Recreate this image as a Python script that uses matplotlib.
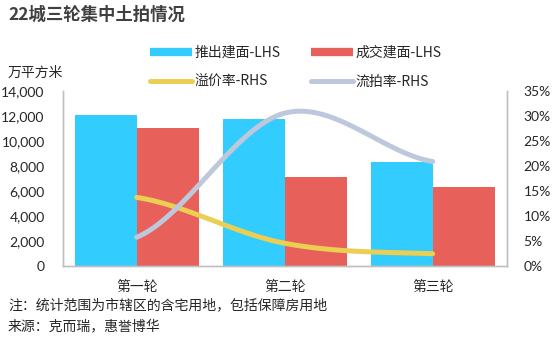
import matplotlib
matplotlib.use("Agg")
import matplotlib.pyplot as plt
from matplotlib.lines import Line2D
import numpy as np

plt.rcParams['font.family'] = ['Noto Sans CJK SC', 'DejaVu Sans']

rounds = ['第一轮', '第二轮', '第三轮']
supply = [12100, 11800, 8320]      # 推出建面, 万平方米
sold = [11050, 7120, 6320]         # 成交建面, 万平方米
premium = [13.7, 4.5, 2.4]         # 溢价率, %
failed = [5.7, 30.6, 20.9]         # 流拍率, %

c_blue = '#33CCFF'
c_red = '#E8605A'
c_yellow = '#EBCF52'
c_gray = '#BEC8DC'
c_axis = '#BFBFBF'
c_text = '#262626'


def smooth(y, n=60):
    # Excel-style smoothed line (Catmull-Rom through the points)
    y = np.asarray(y, float)
    p = np.concatenate([[y[0]], y, [y[-1]]])
    xs, ys = [], []
    for i in range(len(y) - 1):
        t = np.linspace(0, 1, n)
        p0, p1, p2, p3 = p[i], p[i + 1], p[i + 2], p[i + 3]
        b1 = p1 + (p2 - p0) / 6
        b2 = p2 - (p3 - p1) / 6
        yy = (1 - t)**3 * p1 + 3 * (1 - t)**2 * t * b1 + 3 * (1 - t) * t**2 * b2 + t**3 * p2
        xs.append(i + t)
        ys.append(yy)
    return np.concatenate(xs), np.concatenate(ys)


fig = plt.figure(figsize=(5.52, 3.42), dpi=100)
ax = fig.add_axes([62.7 / 552, 1 - 265.7 / 342, 444 / 552, 174.5 / 342])

x = np.arange(len(rounds))
w = 0.418
ax.bar(x - w / 2, supply, w, color=c_blue, zorder=2)
ax.bar(x + w / 2, sold, w, color=c_red, zorder=2)
ax.set_xlim(-0.5, 2.5)
ax.set_ylim(0, 14000)
ax.set_yticks(np.arange(0, 14001, 2000))
ax.set_yticklabels([f'{v:,}' for v in range(0, 14001, 2000)], family='Lato', fontsize=10, color=c_text)
ax.set_xticks(x)
ax.set_xticklabels(rounds, fontsize=10, color=c_text)
ax.tick_params(length=0)
ax.tick_params(axis='y', pad=13)
ax.tick_params(axis='x', pad=10)

ax2 = ax.twinx()
sx, sy = smooth(premium)
ax2.plot(sx, sy, color=c_yellow, lw=3.6, solid_capstyle='round', zorder=3)
sx, sy = smooth(failed)
ax2.plot(sx, sy, color=c_gray, lw=3.6, solid_capstyle='round', zorder=3)
ax2.set_ylim(0, 35)
ax2.set_yticks(np.arange(0, 36, 5))
ax2.set_yticklabels([f'{v}%' for v in range(0, 36, 5)], family='Lato', fontsize=10, color=c_text)
ax2.tick_params(length=0, pad=12)

for a in (ax, ax2):
    a.spines['top'].set_visible(False)
    for s in ('left', 'right', 'bottom'):
        a.spines[s].set_color(c_axis)
        a.spines[s].set_linewidth(1)

handles = [
    Line2D([], [], color=c_blue, lw=6, solid_capstyle='butt'),
    Line2D([], [], color=c_yellow, lw=3.6, solid_capstyle='round'),
    Line2D([], [], color=c_red, lw=6, solid_capstyle='butt'),
    Line2D([], [], color=c_gray, lw=3.6, solid_capstyle='round'),
]
labels = ['推出建面-LHS', '溢价率-RHS', '成交建面-LHS', '流拍率-RHS']
fig.legend(handles, labels, ncol=2, frameon=False, fontsize=10,
           loc='upper left', bbox_to_anchor=(150 / 552, 1 - 46 / 342),
           handlelength=3.0, handletextpad=0.2, columnspacing=2.2,
           labelspacing=1.1, borderaxespad=0, borderpad=0,
           labelcolor=c_text)

fig.text(8 / 552, 1 - 15 / 342, '22城三轮集中土拍情况', fontsize=12.5, fontweight='bold',
         color='#404040', va='center', ha='left')
fig.text(8 / 552, 1 - 73 / 342, '万平方米', fontsize=10, color=c_text, va='center', ha='left')
fig.text(8 / 552, 1 - 305 / 342, '注：统计范围为市辖区的含宅用地，包括保障房用地', fontsize=10,
         color=c_text, va='center', ha='left')
fig.text(8 / 552, 1 - 326 / 342, '来源：克而瑞，惠誉博华', fontsize=10,
         color=c_text, va='center', ha='left')

fig.savefig('out.png', dpi=100)
